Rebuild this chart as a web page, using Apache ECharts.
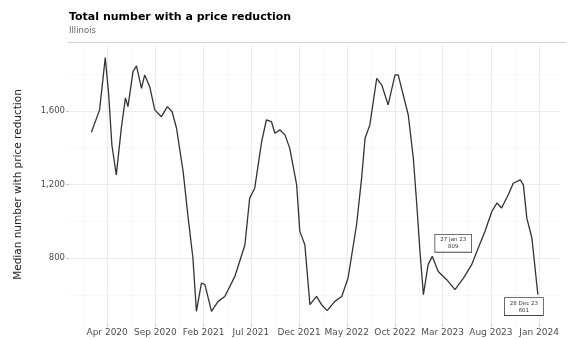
<!DOCTYPE html>
<html><head><meta charset="utf-8">
<script src="https://cdn.jsdelivr.net/npm/echarts@6/dist/echarts.min.js"></script>
<style>html,body{margin:0;padding:0;background:#fff}#c{width:570px;height:339px}</style>
</head><body><div id="c"></div>
<script>
const dates = [
 '2020-02-11','2020-03-08','2020-03-26','2020-04-06','2020-04-16','2020-04-30','2020-05-16','2020-05-29','2020-06-06','2020-06-22',
 '2020-07-03','2020-07-19','2020-07-29','2020-08-14','2020-08-30','2020-09-20','2020-10-09','2020-10-24','2020-11-07','2020-11-28',
 '2020-12-14','2020-12-29','2021-01-09','2021-01-25','2021-02-05','2021-02-26','2021-03-19','2021-04-09','2021-05-11','2021-05-16',
 '2021-06-12','2021-06-27','2021-07-13','2021-08-04','2021-08-19','2021-09-04','2021-09-15','2021-10-01','2021-10-17','2021-11-01',
 '2021-11-23','2021-12-03','2021-12-19','2022-01-04','2022-01-25','2022-02-10','2022-02-28','2022-03-24','2022-04-15','2022-05-05',
 '2022-06-01','2022-06-17','2022-06-28','2022-07-13','2022-08-04','2022-08-20','2022-09-09','2022-10-01','2022-10-11','2022-11-12',
 '2022-11-28','2022-12-09','2022-12-19','2022-12-30','2023-01-14','2023-01-27','2023-02-15','2023-03-14','2023-04-09','2023-05-06',
 '2023-06-01','2023-06-22','2023-07-13','2023-08-04','2023-08-20','2023-09-04','2023-09-25','2023-10-11','2023-11-02','2023-11-12',
 '2023-11-23','2023-12-09','2023-12-28'
];
const values = [
 1484,1606,1890,1687,1415,1252,1508,1671,1624,1814,
 1846,1723,1796,1732,1606,1569,1624,1596,1506,1270,
 1017,800,510,664,655,510,564,591,700,727,
 872,1126,1180,1433,1551,1542,1479,1497,1470,1398,
 1198,945,872,546,591,546,514,564,591,691,
 981,1235,1452,1524,1778,1741,1633,1796,1796,1578,
 1343,1090,836,601,764,809,727,682,628,691,
 764,854,944,1053,1099,1072,1144,1207,1225,1198,
 1017,909,601
];
const xTickDates = ['2020-04-01','2020-09-01','2021-02-01','2021-07-01','2021-12-01','2022-05-01','2022-10-01','2023-03-01','2023-08-01','2024-01-01'];
const xTickLabels = ['Apr 2020','Sep 2020','Feb 2021','Jul 2021','Dec 2021','May 2022','Oct 2022','Mar 2023','Aug 2023','Jan 2024'];
const yTicks = [800, 1200, 1600];
const yTickLabels = ['800', '1,200', '1,600'];
const annotDates = ['2023-01-27', '2023-12-28'];
const annotDateLabels = ['27 Jan 23', '28 Dec 23'];
const titleText = 'Total number with a price reduction';
const subtitleText = 'Illinois';
const yAxisTitle = 'Median number with price reduction';

const ts = s => Date.parse(s + 'T00:00:00Z');
const seriesData = dates.map((d, i) => [ts(d), values[i]]);
const xMajor = xTickDates.map(ts);
const xMinor = [];
for (let i = -1; i < xMajor.length; i++) {
  const a = i < 0 ? xMajor[0] - (xMajor[1] - xMajor[0]) : xMajor[i];
  const b = i + 1 < xMajor.length ? xMajor[i + 1] : xMajor[i] + (xMajor[i] - xMajor[i - 1]);
  xMinor.push((a + b) / 2);
}
const yMinor = [];
for (let i = -1; i < yTicks.length; i++) {
  const a = i < 0 ? yTicks[0] - 400 : yTicks[i];
  yMinor.push(a + 200);
}
const xMin = ts('2019-12-02'), xMax = ts('2024-03-04');
const yMin = 441, yMax = 1959;

const annotPoints = annotDates.map((d, k) => {
  const i = dates.indexOf(d);
  return { coord: [ts(d), values[i]], text: annotDateLabels[k] + '\n' + values[i] };
});
const annotOffsets = [[21, -13], [-14, 12]];

const FONT = 'DejaVu Sans';
const chart = echarts.init(document.getElementById('c'), null, { renderer: 'canvas' });
chart.setOption({
  animation: false,
  backgroundColor: '#ffffff',
  textStyle: { fontFamily: FONT },
  title: [
    { text: titleText, left: 69, top: 12, padding: 0, textStyle: { fontFamily: FONT, fontSize: 11, fontWeight: 'bold', color: '#000' } },
    { text: subtitleText, left: 69, top: 26, padding: 0, textStyle: { fontFamily: FONT, fontSize: 8.5, fontWeight: 'normal', color: '#666' } }
  ],
  graphic: [
    { type: 'line', shape: { x1: 68, y1: 42.5, x2: 566, y2: 42.5 }, style: { stroke: '#d0d0d0', lineWidth: 1 } }
  ],
  grid: { left: 69, right: 11, top: 45, bottom: 15, containLabel: false },
  xAxis: [
    {
      type: 'value', min: xMin, max: xMax, scale: true,
      axisLine: { show: false },
      axisTick: { show: true, length: 3, lineStyle: { color: '#bbb', width: 0.8 }, customValues: xMajor },
      axisLabel: {
        customValues: xMajor, fontSize: 9, color: '#4d4d4d', margin: 4, hideOverlap: false,
        formatter: v => { const i = xMajor.indexOf(v); return i >= 0 ? xTickLabels[i] : ''; }
      },
      splitLine: { show: true, lineStyle: { color: '#e6e6e6', width: 0.8 } }
    },
    {
      type: 'value', min: xMin, max: xMax, scale: true, position: 'bottom',
      axisLine: { show: false },
      axisTick: { show: false, customValues: xMinor },
      axisLabel: { show: false, customValues: xMinor },
      splitLine: { show: true, lineStyle: { color: '#f3f3f3', width: 0.6 } }
    }
  ],
  yAxis: [
    {
      type: 'value', min: yMin, max: yMax, name: yAxisTitle, nameLocation: 'middle', nameGap: 45, nameRotate: 90,
      nameTextStyle: { fontFamily: FONT, fontSize: 10.5, color: '#222' },
      axisLine: { show: false },
      axisTick: { show: true, length: 3, lineStyle: { color: '#bbb', width: 0.8 }, customValues: yTicks },
      axisLabel: {
        customValues: yTicks, fontSize: 8.5, color: '#4d4d4d', margin: 4,
        formatter: v => { const i = yTicks.indexOf(v); return i >= 0 ? yTickLabels[i] : ''; }
      },
      splitLine: { show: true, lineStyle: { color: '#e6e6e6', width: 0.8 } }
    },
    {
      type: 'value', min: yMin, max: yMax, position: 'left',
      axisLine: { show: false },
      axisTick: { show: false, customValues: yMinor },
      axisLabel: { show: false, customValues: yMinor },
      splitLine: { show: true, lineStyle: { color: '#f3f3f3', width: 0.6 } }
    }
  ],
  series: [{
    type: 'line', xAxisIndex: 0, yAxisIndex: 0,
    data: seriesData, showSymbol: false, symbol: 'none',
    lineStyle: { color: '#333333', width: 1.3 },
    markPoint: {
      symbol: 'circle', symbolSize: 0.1,
      data: annotPoints.map((p, k) => ({
        coord: p.coord,
        label: {
          show: true, position: 'inside', offset: annotOffsets[k],
          formatter: p.text, fontSize: 5.5, lineHeight: 7, color: '#333', align: 'center',
          backgroundColor: '#fff', borderColor: '#444', borderWidth: 0.8, padding: [2, 5, 1, 5]
        }
      }))
    }
  }]
});
</script>
</body></html>
